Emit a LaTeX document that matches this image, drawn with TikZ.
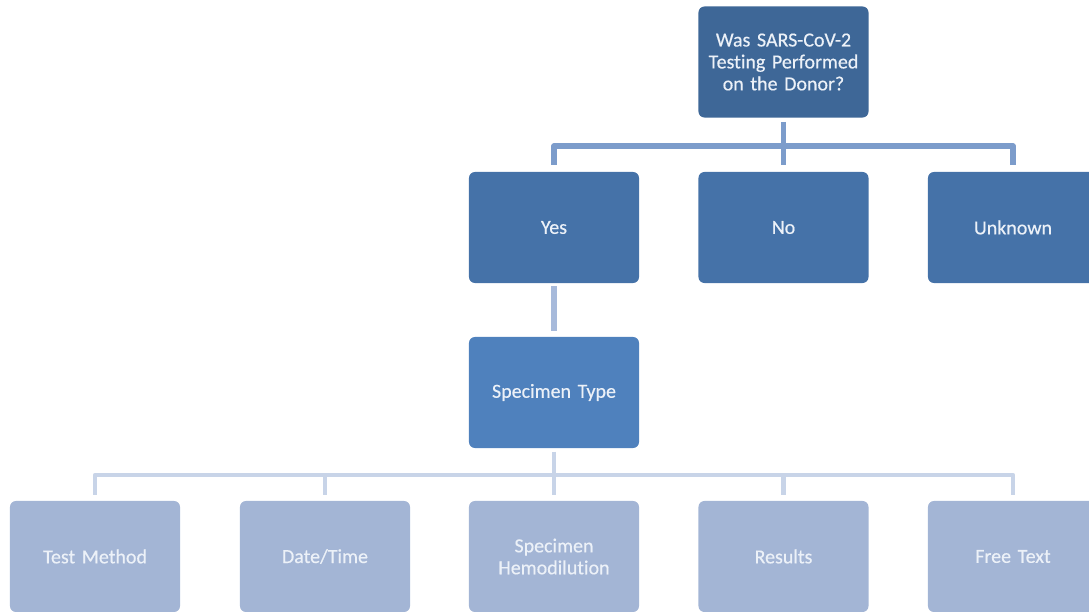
\documentclass[tikz,border=0pt]{standalone}
\usepackage{fontspec}
\setmainfont[Ligatures=NoCommon,FakeBold=0.4]{Carlito}

\definecolor{qfill}{RGB}{62,103,151}
\definecolor{ansfill}{RGB}{69,114,168}
\definecolor{specfill}{RGB}{79,129,189}
\definecolor{leaffill}{RGB}{163,181,213}
\definecolor{boxtext}{RGB}{236,241,248}
\definecolor{linkA}{RGB}{124,156,203}
\definecolor{linkB}{RGB}{167,186,219}
\definecolor{linkC}{RGB}{200,212,232}

\tikzset{box/.style={rounded corners=0.15cm,minimum width=4.25cm,minimum height=2.775cm,
  text width=4.1cm,align=center,text=boxtext,inner sep=0cm,
  font=\fontsize{14.2}{15.6}\selectfont},
question/.style={box,fill=qfill},
answer/.style={box,fill=ansfill},
spec/.style={box,fill=specfill},
leaf/.style={box,fill=leaffill},
link/.style={line width=0.14cm,line join=round},
link top/.style={link,draw=linkA},
link mid/.style={link,draw=linkB},
link low/.style={link,line width=0.12cm,draw=linkC}}

\begin{document}
\begin{tikzpicture}[x=0.025cm,y=-0.025cm]
\useasboundingbox (0,0) rectangle (1089,611);
\clip (0,0) rectangle (1089,611);

%% Coordinates of nodes.
\coordinate (cq) at (783.5,62);
\coordinate (cyes) at (554,227.5);
\coordinate (cno) at (783.5,227.5);
\coordinate (cunk) at (1013,227.5);
\coordinate (cspec) at (554,392.5);
\coordinate (cmeth) at (95,556.5);
\coordinate (cdate) at (325,556.5);
\coordinate (chemo) at (554,556.5);
\coordinate (cres) at (783.5,556.5);
\coordinate (cfree) at (1013,556.5);

%% junctions
\coordinate (jtop) at (783.5,146);
\coordinate (jlow) at (554,475);

%% boxes
\node [question] (q) at (cq) {Was SARS-CoV-2\\Testing Performed\\on the Donor?};
\node [answer] (yes) at (cyes) {Yes};
\node [answer] (no) at (cno) {No};
\node [answer] (unk) at (cunk) {Unknown};
\node [spec] (spec) at (cspec) {Specimen Type};
\node [leaf] (meth) at (cmeth) {Test Method};
\node [leaf] (date) at (cdate) {Date/Time};
\node [leaf] (hemo) at (chemo) {Specimen\\Hemodilution};
\node [leaf] (res) at (cres) {Results};
\node [leaf] (free) at (cfree) {Free Text};

%% first level lines
\draw [link top,shorten <=0.1cm,shorten >=0.17cm] (q.south) -- (no.north);
\draw [link top,shorten <=0.17cm,shorten >=0.17cm] (yes.north) |- (jtop) -| (unk.north);

%% yes to specimen type
\draw [link mid,shorten <=0.08cm,shorten >=0.15cm] (yes.south) -- (spec.north);

%% last level lines
\draw [link low,shorten <=0.08cm] (spec.south) -- (jlow);
\draw [link low,shorten <=0.15cm,shorten >=0.15cm] (meth.north) |- (jlow) -| (free.north);
\draw [link low,shorten >=0.15cm] (jlow) -- (hemo.north);
\draw [link low,shorten >=0.15cm] (date.north |- jlow) -- (date.north);
\draw [link low,shorten >=0.15cm] (res.north |- jlow) -- (res.north);

\end{tikzpicture}
\end{document}
